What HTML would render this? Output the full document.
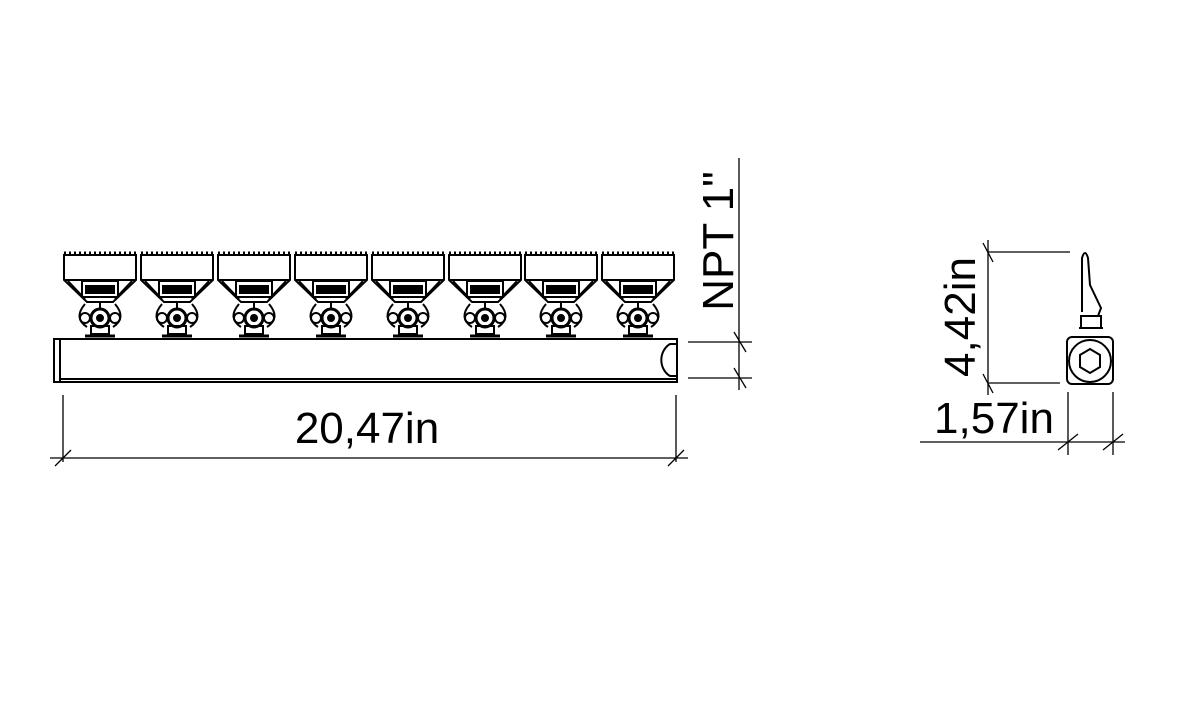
<!DOCTYPE html>
<html><head><style>body{margin:0;background:#fff}svg{display:block}</style></head><body>
<svg width="1181" height="708" viewBox="0 0 1181 708" xmlns="http://www.w3.org/2000/svg">
<defs>
<g id="u" fill="none" stroke="#000" stroke-width="2">
<path d="M1,253 l72,0" stroke-dasharray="2 3" stroke-width="3"/>
<path d="M1,255 L1,280 L24,302 L50,302 L73,280 L73,255 Z"/>
<path d="M1,280 L73,280"/>
<path d="M5,281 L22,299 M69,281 L52,299"/>
<rect x="19" y="281" width="36" height="16"/>
<rect x="23" y="286" width="28" height="7" fill="#000"/>
<path d="M37,302 L37,310"/>
<path d="M22,304 Q10,318 24,327 M52,304 Q64,318 50,327"/>
<circle cx="22" cy="318" r="5"/><circle cx="52" cy="318" r="5"/>
<circle cx="37" cy="318" r="9" stroke-width="3"/>
<circle cx="37" cy="318" r="3" fill="#000"/>
<rect x="28" y="326" width="18" height="8"/>
<path d="M22,336 L52,336" stroke-width="3"/>
</g>
</defs>
<g>
<use href="#u" x="63"/><use href="#u" x="140"/><use href="#u" x="217"/><use href="#u" x="294"/>
<use href="#u" x="371"/><use href="#u" x="448"/><use href="#u" x="524"/><use href="#u" x="601"/>
</g>
<g fill="none" stroke="#000" stroke-width="2">
<rect x="54" y="339" width="623" height="43"/>
<path d="M60,339 L60,382 M60,379 L677,379" />
<path d="M677,344 L670,344 A16,18 0 0 0 670,376 L677,376"/>
</g>
<g fill="none" stroke="#000" stroke-width="1.3">
<path d="M63,395 L63,462 M676,395 L676,462 M50,458 L688,458"/>
<path d="M55,466 L71,450 M668,466 L684,450"/>
<path d="M739,158 L739,390 M688,342 L752,342 M688,378 L752,378"/>
<path d="M734,332 L746,352 M734,368 L746,388"/>
<path d="M988,240 L988,395 M988,252 L1070,252 M988,383 L1060,383"/>
<path d="M983,243 L993,262 M983,374 L993,393"/>
<path d="M1068,392 L1068,455 M1113,392 L1113,455 M920,442 L1125,442"/>
<path d="M1058,450 L1078,434 M1103,450 L1123,434"/>
</g>
<g fill="none" stroke="#000" stroke-width="2">
<path d="M1082,312 L1082,258 Q1085,248 1088,258 L1090,285 L1101,308 L1098,316 L1084,316"/>
<rect x="1081" y="316" width="20" height="12"/>
<path d="M1079,328 L1103,328"/>
<rect x="1067" y="337" width="46" height="47" rx="5"/>
<circle cx="1090" cy="361" r="21"/>
<polygon points="1090,349 1100,355 1100,367 1090,373 1080,367 1080,355"/>
</g>
<g font-family="Liberation Sans, sans-serif" font-size="44" fill="#000">
<text x="367" y="443" text-anchor="middle">20,47in</text>
<text x="994" y="433" text-anchor="middle">1,57in</text>
<text transform="translate(733,241) rotate(-90)" text-anchor="middle">NPT 1"</text>
<text transform="translate(975,317) rotate(-90)" text-anchor="middle">4,42in</text>
</g>
</svg>
</body></html>
